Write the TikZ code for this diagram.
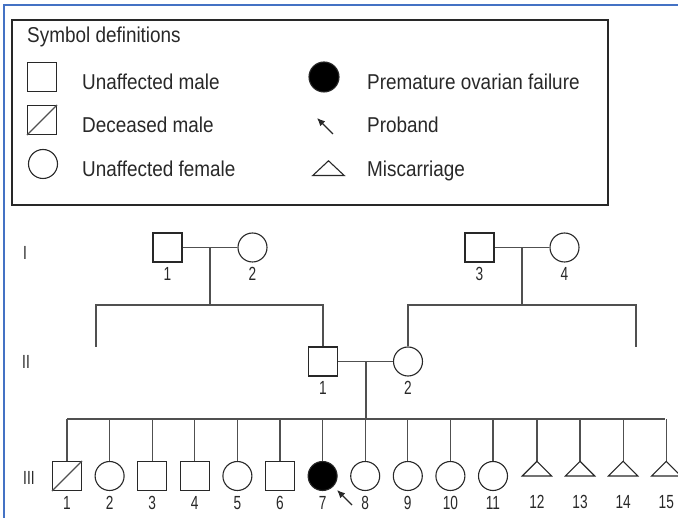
\documentclass[tikz,border=0pt]{standalone}
\usepackage{fontspec}
\newfontfamily\keyfont{Liberation Sans}[FakeStretch=0.88]
\newfontfamily\numfont{Liberation Sans}[FakeStretch=0.72]
\usetikzlibrary{arrows.meta, positioning}
\definecolor{frameblue}{RGB}{68,114,196}
\definecolor{ink}{RGB}{40,40,40}
\definecolor{wire}{RGB}{80,80,80}
\tikzset{male/.style={rectangle,draw=ink,line width=1.1pt,minimum size=29pt,inner sep=0pt},female/.style={circle,draw=ink,line width=1.1pt,minimum size=29pt,inner sep=0pt},loss/.style={rectangle,minimum size=29pt,inner sep=0pt},keytext/.style={anchor=base west,inner sep=0pt,text=ink,font=\keyfont\fontsize{21.5}{24}\selectfont},gen/.style={anchor=west,inner sep=0pt,text=ink,font=\numfont\fontsize{19}{21}\selectfont},line/.style={draw=wire,line width=1.2pt},pointer/.style={-{Latex[length=8pt,width=7pt]},draw=ink,line width=1.2pt}}

\begin{document}
\begin{tikzpicture}[x=1pt,y=-1pt,node distance=12.5pt,label distance=1.5pt,every label/.style={text=ink,font=\numfont\fontsize{19}{21}\selectfont}]
\useasboundingbox (0,0) rectangle (678,518);
\draw[frameblue,line width=1.5pt] (4,520) -- (4,5) -- (680,5);

% key
\node[draw=ink,line width=1.5pt,minimum width=596pt,minimum height=185pt,inner sep=0pt] (key) at (310,112.5) {};
\node[keytext] (title) at (27,43) {Symbol definitions};
\node[male] (kmale) at (42,77) {};
\node[keytext] (tmale) at (82,90) {Unaffected male};
\node[male] (kdead) at (42,120) {};
\draw[line] (kdead.south west) -- (kdead.north east);
\node[keytext] (tdead) at (82,133) {Deceased male};
\node[female] (kfemale) at (43,164) {};
\node[keytext] (tfemale) at (82,177) {Unaffected female};
\node[female,fill=black,minimum size=30pt] (kpof) at (324,77) {};
\node[keytext] (tpof) at (367,90) {Premature ovarian failure};
\coordinate (kptail) at (333,134);
\coordinate (kphead) at (317,118);
\draw[pointer] (kptail) -- (kphead);
\node[keytext] (tpro) at (367,133) {Proband};
\node[loss,minimum width=31pt] (kloss) at (328.5,175.5) {};
\draw[draw=ink,line width=1.1pt] (kloss.north) -- (kloss.east) -- (kloss.west) -- cycle;
\node[keytext] (tloss) at (367,177) {Miscarriage};

% generation I
\node[gen] (gI) at (23,253) {I};
\node[male,label=below:1] (i1) at (167.5,247.5) {};
\node[female,label=below:2] (i2) at (252.5,247.5) {};
\node[male,label=below:3] (i3) at (479.5,247.5) {};
\node[female,label=below:4] (i4) at (564.5,247.5) {};
\coordinate (u1) at (210,247.5);
\coordinate (d1) at (210,305);
\coordinate (s1) at (96,305);
\coordinate (h1) at (96,347);
\coordinate (u2) at (522,247.5);
\coordinate (d2) at (522,305);
\coordinate (s2) at (636,305);
\coordinate (h2) at (636,347);

% generation II
\node[gen] (gII) at (22,362) {II};
\node[male,label=below:1] (ii1) at (323,361.5) {};
\node[female,label=below:2] (ii2) at (408,361.5) {};
\coordinate (u3) at (366,361.5);
\coordinate (d3) at (366,419);

\draw[line] (i1) -- (i2);
\draw[line] (u1) -- (d1);
\draw[line] (h1) -- (s1) -| (ii1.north);
\draw[line] (i3) -- (i4);
\draw[line] (u2) -- (d2);
\draw[line] (ii2.north) |- (s2) -- (h2);
\draw[line] (ii1) -- (ii2);
\draw[line] (u3) -- (d3);

% generation III
\node[gen] (gIII) at (23,478) {III};
\node[male,label=below:1] (iii1) at (67,476) {};
\draw[line] (iii1.south west) -- (iii1.north east);
\node[female,right=of iii1,label=below:2] (iii2) {};
\node[male,right=of iii2,label=below:3] (iii3) {};
\node[male,right=of iii3,label=below:4] (iii4) {};
\node[female,right=of iii4,label=below:5] (iii5) {};
\node[male,right=of iii5,label=below:6] (iii6) {};
\node[female,fill=black,right=of iii6,label=below:7] (iii7) {};
\node[female,right=of iii7,label=below:8] (iii8) {};
\node[female,right=of iii8,label=below:9] (iii9) {};
\node[female,right=of iii9,label=below:10] (iii10) {};
\node[female,right=of iii10,label=below:11] (iii11) {};
\node[loss,right=14.2pt of iii11,label=below:12] (iii12) {};
\node[loss,right=13.7pt of iii12,label=below:13] (iii13) {};
\node[loss,right=13.7pt of iii13,label=below:14] (iii14) {};
\node[loss,right=13.7pt of iii14,label=below:15] (iii15) {};
\coordinate (bl) at (67,419);
\coordinate (br) at (665,419);
\draw[line] (bl) -- (br);
\foreach \k in {1,...,15}
  \draw[line] (iii\k.north) -- (iii\k.north |- bl);
\foreach \k in {12,...,15}
  \draw[draw=ink,line width=1.1pt] (iii\k.north) -- (iii\k.east) -- (iii\k.west) -- cycle;
\coordinate (ptail) at (352,505);
\coordinate (phead) at (337,490);
\draw[pointer] (ptail) -- (phead);
\end{tikzpicture}
\end{document}
